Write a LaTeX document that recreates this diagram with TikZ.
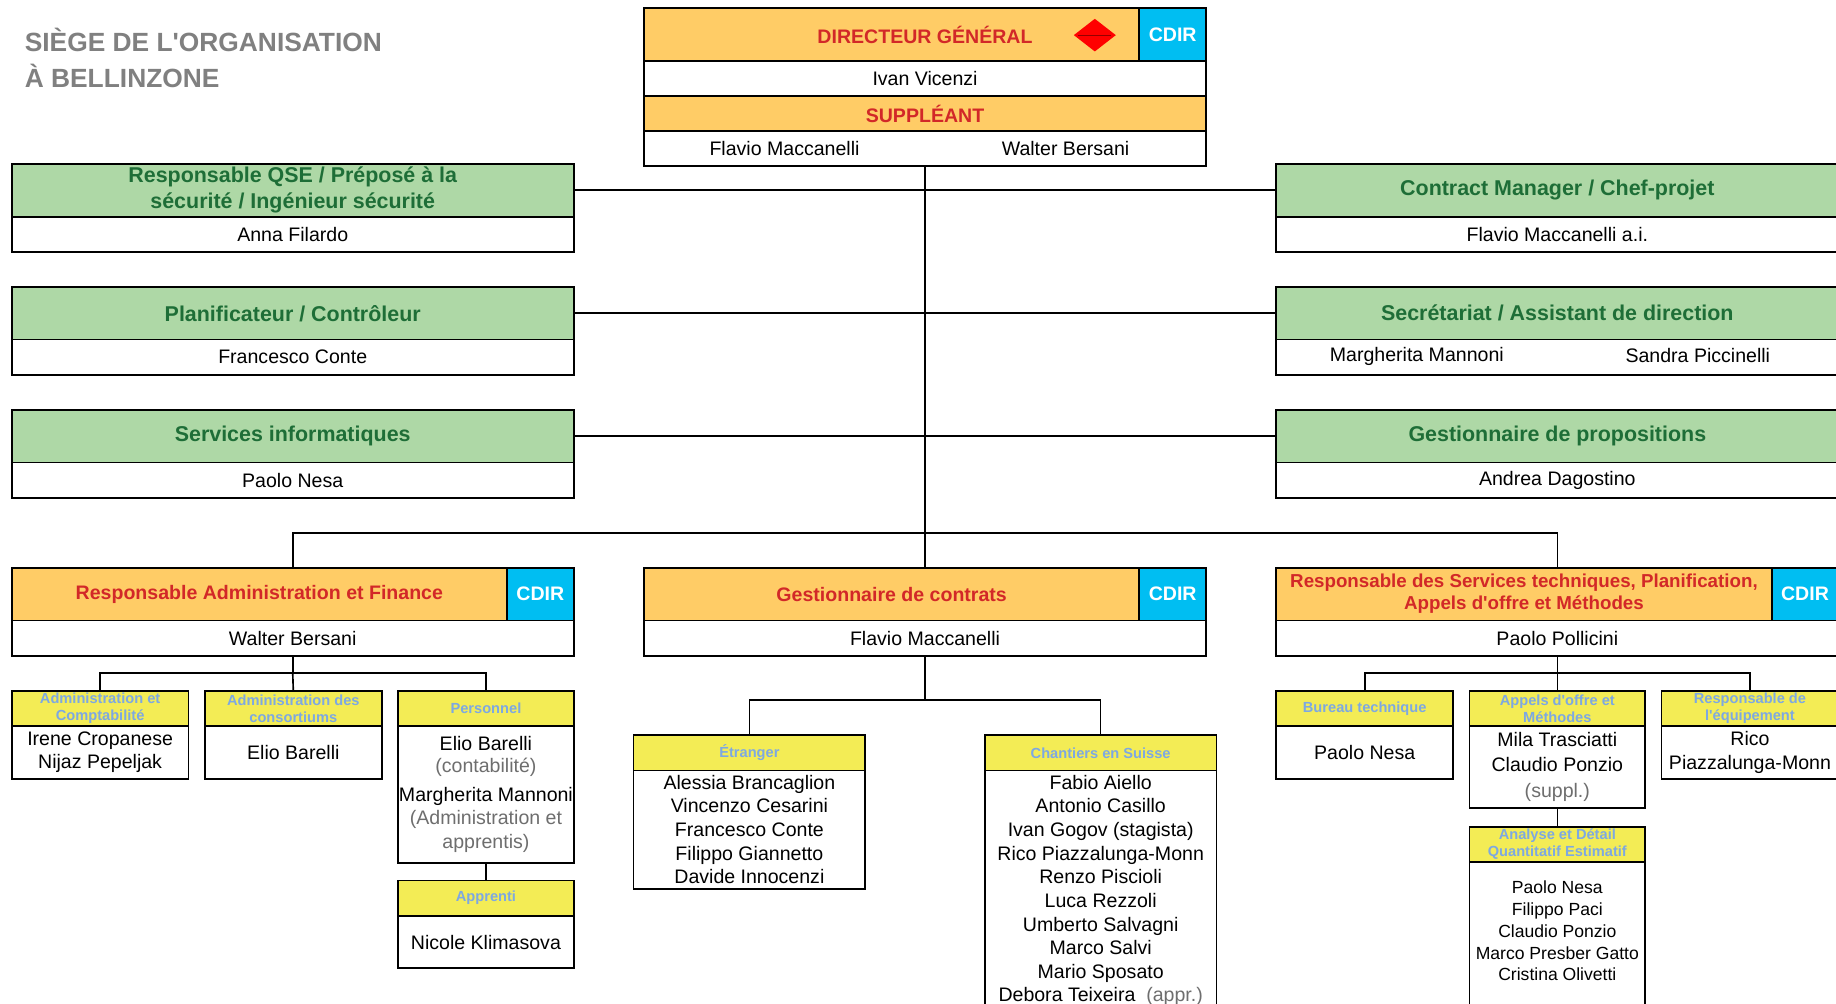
\documentclass[tikz,border=0pt]{standalone}
\usepackage{fontspec}
\setmainfont{Liberation Sans}
\newfontfamily\lsans{Liberation Sans}
\usetikzlibrary{shapes.geometric}
\definecolor{grnfill}{RGB}{174,216,166}
\definecolor{grntxt}{RGB}{30,110,55}
\definecolor{orgfill}{RGB}{255,204,102}
\definecolor{redtxt}{RGB}{210,40,40}
\definecolor{yelfill}{RGB}{243,236,85}
\definecolor{bluetxt}{RGB}{125,168,226}
\definecolor{cdirblue}{RGB}{0,190,242}
\definecolor{titlegray}{RGB}{128,128,128}
\definecolor{notegray}{RGB}{110,110,110}
\definecolor{diared}{RGB}{150,0,0}
\tikzset{
  orgbase/.style={draw=black,line width=1.5pt,inner sep=0pt,outer sep=0pt,anchor=north west,align=center},
  grn/.style={orgbase,fill=grnfill,text=grntxt,font=\bfseries\fontsize{18.3}{22}\selectfont},
  org/.style={orgbase,fill=orgfill,text=redtxt,font=\bfseries\fontsize{16.7}{19}\selectfont},
  yel/.style={orgbase,fill=yelfill,text=bluetxt,font=\bfseries\fontsize{12.5}{14.5}\selectfont},
  wht/.style={orgbase,fill=white,text=black,font=\fontsize{16.7}{20.2}\selectfont},
  cdir/.style={orgbase,fill=cdirblue,text=white,font=\bfseries\fontsize{16.7}{20}\selectfont},
  txt/.style={inner sep=0pt,align=center,text=black,font=\fontsize{16.7}{20.2}\selectfont},
  ttl/.style={inner sep=0pt,align=center,text=redtxt,font=\bfseries\fontsize{16.7}{19}\selectfont},
  hdr/.style={inner sep=0pt,anchor=base west,text=titlegray,font=\lsans\bfseries\fontsize{22.5}{26}\selectfont},
  conn/.style={draw=black,line width=1.4pt},
}
\newcommand\orgcell[7]{\node[#2,minimum width=#5pt,minimum height=#6pt] (#1) at (#3,#4) {#7};}
\begin{document}
\begin{tikzpicture}[x=1pt,y=-1pt]
\clip (0,0) rectangle (1568,856.6);
\fill[white] (0,0) rectangle (1568,856.6);
% title
\node[hdr] (t1) at (21,44) {SIÈGE DE L'ORGANISATION};
\node[hdr] (t2) at (21,75) {À BELLINZONE};
% top box
\orgcell{dgh}{org}{550}{7}{480}{45}{}
\orgcell{dgc}{cdir}{973}{7}{57}{45}{CDIR}
\node[diamond,fill=red,draw=none,minimum width=36pt,minimum height=28pt,inner sep=0pt] (dia) at (935,30) {};
\draw[diared,line width=0.8pt] ([xshift=4pt]dia.west) -- ([xshift=-4pt]dia.east);
\node[ttl] (dgt) at (790,29.5) {DIRECTEUR GÉNÉRAL};
\orgcell{dgn}{wht}{550}{52}{480}{30}{Ivan Vicenzi}
\orgcell{suh}{org}{550}{82}{480}{30}{SUPPLÉANT}
\orgcell{sun}{wht}{550}{112}{480}{30}{}
\node[txt] (sun1) at (670,127) {Flavio Maccanelli};
\node[txt] (sun2) at (910,127) {Walter Bersani};
% left column
\orgcell{qseh}{grn}{10}{140}{480}{45}{Responsable QSE / Préposé à la\\sécurité / Ingénieur sécurité}
\orgcell{qsen}{wht}{10}{185}{480}{30}{Anna Filardo}
\orgcell{planh}{grn}{10}{245}{480}{45}{Planificateur / Contrôleur}
\orgcell{plann}{wht}{10}{290}{480}{30}{Francesco Conte}
\orgcell{infh}{grn}{10}{350}{480}{45}{Services informatiques}
\orgcell{infn}{wht}{10}{395}{480}{30}{Paolo Nesa}
% right column
\orgcell{cmh}{grn}{1090}{140}{480}{45}{Contract Manager / Chef-projet}
\orgcell{cmn}{wht}{1090}{185}{480}{30}{Flavio Maccanelli a.i.}
\orgcell{sech}{grn}{1090}{245}{480}{45}{Secrétariat / Assistant de direction}
\orgcell{secn}{wht}{1090}{290}{480}{30}{}
\node[txt] (sec1) at (1210,304) {Margherita Mannoni};
\node[txt] (sec2) at (1450,304) {Sandra Piccinelli};
\orgcell{proph}{grn}{1090}{350}{480}{45}{Gestionnaire de propositions}
\orgcell{propn}{wht}{1090}{395}{480}{30}{Andrea Dagostino}
% level 2
\orgcell{afh}{org}{10}{485}{480}{45}{}
\orgcell{afc}{cdir}{433}{485}{57}{45}{CDIR}
\node[ttl] (aft) at (221.5,507.5) {Responsable Administration et Finance};
\orgcell{afn}{wht}{10}{530}{480}{30}{Walter Bersani}
\orgcell{gch}{org}{550}{485}{480}{45}{}
\orgcell{gcc}{cdir}{973}{485}{57}{45}{CDIR}
\node[ttl] (gct) at (761.5,507.5) {Gestionnaire de contrats};
\orgcell{gcn}{wht}{550}{530}{480}{30}{Flavio Maccanelli}
\orgcell{sth}{org}{1090}{485}{480}{45}{}
\orgcell{stc}{cdir}{1513}{485}{57}{45}{CDIR}
\node[ttl,font=\lsans\bfseries\fontsize{16}{19}\selectfont] (stt) at (1301.5,507) {Responsable des Services techniques, Planification,\\Appels d'offre et Méthodes};
\orgcell{stn}{wht}{1090}{530}{480}{30}{Paolo Pollicini}
% level 3 left
\orgcell{acy}{yel}{10}{590}{151}{30}{Administration et\\Comptabilité}
\orgcell{acw}{wht}{10}{620}{151}{45}{Irene Cropanese\\Nijaz Pepeljak}
\orgcell{adcy}{yel}{175}{590}{151}{30}{Administration des\\consortiums}
\orgcell{adcw}{wht}{175}{620}{151}{45}{Elio Barelli}
\orgcell{pery}{yel}{340}{590}{150}{30}{Personnel}
\orgcell{perw}{wht}{340}{620}{150}{117}{Elio Barelli\\[-1.2pt]{\color{notegray}(contabilité)}\\[3.8pt]Margherita Mannoni\\{\color{notegray}(Administration et}\\{\color{notegray}apprentis)}}
\orgcell{appy}{yel}{340}{752}{150}{30}{Apprenti}
\orgcell{appw}{wht}{340}{782}{150}{45}{Nicole Klimasova}
% level 3 middle
\orgcell{ety}{yel}{541}{628}{198}{30}{Étranger}
\orgcell{etw}{wht}{541}{658}{198}{101}{Alessia Brancaglion\\Vincenzo Cesarini\\Francesco Conte\\Filippo Giannetto\\Davide Innocenzi}
\orgcell{chy}{yel}{841}{628}{198}{30}{Chantiers en Suisse}
\orgcell{chw}{wht}{841}{658}{198}{230}{}
\node[txt] (cht) at (940,760.5) {Fabio Aiello\\Antonio Casillo\\Ivan Gogov (stagista)\\Rico Piazzalunga-Monn\\Renzo Piscioli\\Luca Rezzoli\\Umberto Salvagni\\Marco Salvi\\Mario Sposato\\Debora Teixeira\ \ {\color{notegray}(appr.)}};
% level 3 right
\orgcell{bty}{yel}{1090}{590}{151}{30}{Bureau technique}
\orgcell{btw}{wht}{1090}{620}{151}{45}{Paolo Nesa}
\orgcell{apy}{yel}{1255}{590}{150}{30}{{\lsans Appels d'offre et}\\Méthodes}
\orgcell{apw}{wht}{1255}{620}{150}{70}{Mila Trasciatti\\[0.8pt]Claudio Ponzio\\[1.8pt]{\color{notegray}(suppl.)}}
\orgcell{rey}{yel}{1419}{590}{151}{30}{Responsable de\\{\lsans l'équipement}}
\orgcell{rew}{wht}{1419}{620}{151}{45}{Rico\\Piazzalunga-Monn}
\orgcell{aqy}{yel}{1255}{706}{150}{30}{Analyse et Détail\\Quantitatif Estimatif}
\orgcell{aqw}{wht}{1255}{736}{150}{160}{}
\node[txt,font=\fontsize{15}{18.6}\selectfont] (aqt) at (1330,795.2) {Paolo Nesa\\Filippo Paci\\Claudio Ponzio\\Marco Presber Gatto\\Cristina Olivetti};
% connectors
\coordinate (j1) at (790,455);
\coordinate (j2) at (250,575);
\coordinate (j3) at (790,598);
\coordinate (j4) at (1330,575);
\draw[conn] (sun.south) -- (j1);
\draw[conn] (qseh.east) -- (cmh.west);
\draw[conn] (planh.east) -- (sech.west);
\draw[conn] (infh.east) -- (proph.west);
\draw[conn] (afh.north) |- (j1) -| (sth.north);
\draw[conn] (j1) -- (gch.north);
\draw[conn] (afn.south) -- (j2);
\draw[conn] (acy.north) |- (j2) -| (pery.north);
\draw[conn] (j2) -- (adcy.north);
\draw[conn] (perw.south) -- (appy.north);
\draw[conn] (gcn.south) -- (j3);
\draw[conn] (ety.north) |- (j3) -| (chy.north);
\draw[conn] (stn.south) -- (j4);
\draw[conn] (bty.north) |- (j4) -| (rey.north);
\draw[conn] (j4) -- (apy.north);
\draw[conn] (apw.south) -- (aqy.north);
\end{tikzpicture}
\end{document}
